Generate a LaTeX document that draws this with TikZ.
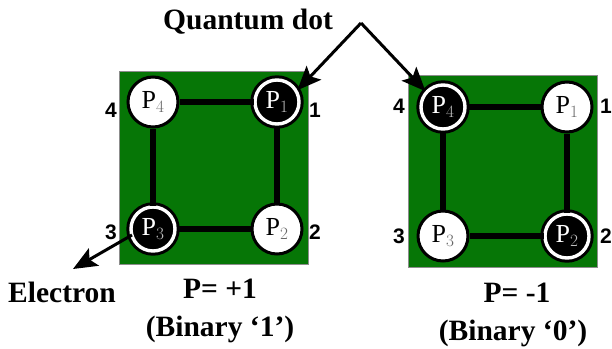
\documentclass[tikz,border=0pt]{standalone}
\usepackage{fontspec}
\setmainfont{Liberation Serif}
\newfontfamily\numfont{Liberation Sans}
\usepackage{xcolor}
\usetikzlibrary{positioning, arrows.meta}
\definecolor{chipgreen}{RGB}{6,118,6}

\begin{document}
\begin{tikzpicture}[
  x=1pt, y=-1pt,
  chip/.style={rectangle, draw=black!45, line width=0.8pt, fill=chipgreen, anchor=north west, inner sep=0pt},
  empty/.style={circle, draw=black, line width=3pt, fill=white, minimum size=50pt, inner sep=0pt, font=\fontsize{26}{28}\selectfont},
  full/.style={circle, draw=black, line width=3pt, double=white, double distance=3.4pt, fill=black,
               text=white, minimum size=44pt, inner sep=0pt, font=\fontsize{26}{28}\selectfont},
  wire/.style={line width=6.5pt, black},
  arrow/.style={-{Stealth[length=24pt, width=20pt, inset=5pt]}, line width=3pt, black},
  num/.style={font=\numfont\bfseries\fontsize{21}{23}\selectfont},
  lab/.style={font=\bfseries\fontsize{29.5}{31}\selectfont},
]
  \useasboundingbox (0,0) rectangle (612,348);

  % left chip
  \node[chip, minimum width=189pt, minimum height=193pt] (chipa) at (119,71) {};
  \node[empty] (a4) at (153,102) {P\textcolor{black!60}{$_4$}};
  \node[full]  (a1) at (277,102) {P\textcolor{black!25}{$_1$}};
  \node[full]  (a3) at (153,229) {P\textcolor{black!25}{$_3$}};
  \node[empty] (a2) at (277,229) {P\textcolor{black!60}{$_2$}};
  \draw[wire] (a4) -- (a1);
  \draw[wire] (a1) -- (a2);
  \draw[wire] (a2) -- (a3);
  \draw[wire] (a3) -- (a4);

  % right chip
  \node[chip, minimum width=189pt, minimum height=192pt] (chipb) at (408,75) {};
  \node[full]  (b4) at (443,107) {P\textcolor{black!25}{$_4$}};
  \node[empty] (b1) at (567,107) {P\textcolor{black!60}{$_1$}};
  \node[empty] (b3) at (443,236) {P\textcolor{black!60}{$_3$}};
  \node[full]  (b2) at (567,236) {P\textcolor{black!25}{$_2$}};
  \draw[wire] (b4) -- (b1);
  \draw[wire] (b1) -- (b2);
  \draw[wire] (b2) -- (b3);
  \draw[wire] (b3) -- (b4);

  \node[num] (na4) at (111,110) {4};
  \node[num] (na1) at (315,110) {1};
  \node[num] (na3) at (111,232) {3};
  \node[num] (na2) at (315,232) {2};
  \node[num] (nb4) at (399,106) {4};
  \node[num] (nb1) at (606,106) {1};
  \node[num] (nb3) at (399,236) {3};
  \node[num] (nb2) at (606,236) {2};

  \node[lab] (qd) at (248,22) {Quantum dot};
  \node[lab] (elec) at (62,292) {Electron};
  \node[lab] (pa) at (220,289) {P= +1};
  \node[lab] (ba) at (220,329) {(Binary ‘1’)};
  \node[lab] (pb) at (517,293) {P= -1};
  \node[lab] (bb) at (513,333) {(Binary ‘0’)};

  \coordinate (apex) at (361,23);
  \coordinate (estart) at (132,235);
  \coordinate (etip) at (73,269);
  \draw[arrow] (apex) -- (a1.30);
  \draw[arrow] (apex) -- (b4.138);
  \draw[arrow] (estart) -- (etip);

\end{tikzpicture}
\end{document}
